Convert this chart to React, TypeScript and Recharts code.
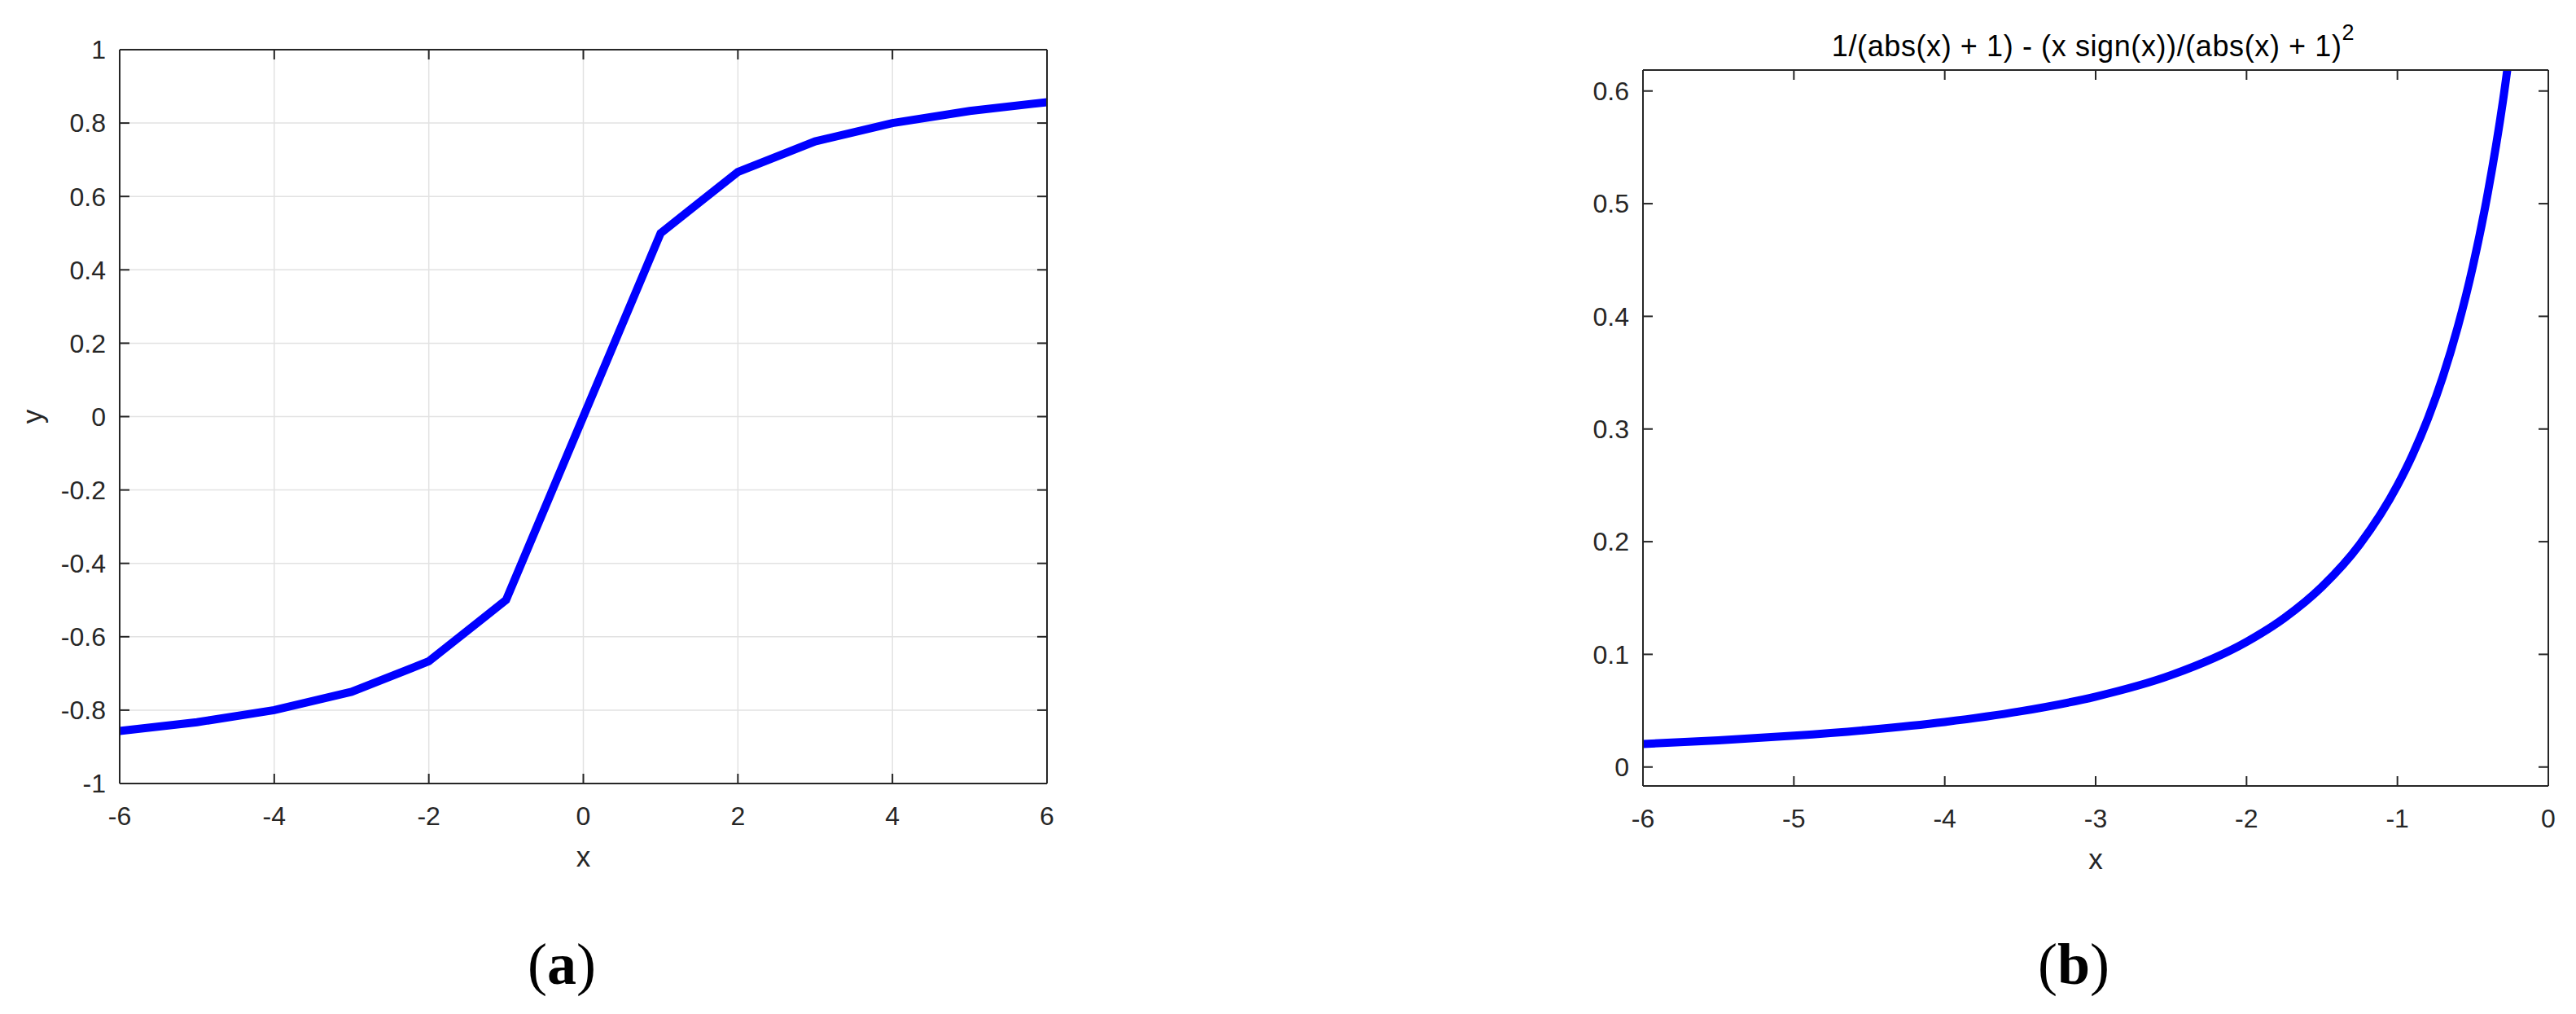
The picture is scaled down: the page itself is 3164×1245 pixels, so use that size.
import React from "react";
import { CartesianGrid, Line, LineChart, XAxis, YAxis } from "recharts";

// (a) softsign sampled at integer x
const softsignX = [-6, -5, -4, -3, -2, -1, 0, 1, 2, 3, 4, 5, 6];
const softsignY = [-0.857, -0.833, -0.8, -0.75, -0.667, -0.5, 0, 0.5, 0.667, 0.75, 0.8, 0.833, 0.857];
const leftXTicks = [-6, -4, -2, 0, 2, 4, 6];
const leftYTicks = [-1, -0.8, -0.6, -0.4, -0.2, 0, 0.2, 0.4, 0.6, 0.8, 1];

// (b) derivative curve on the negative side
const derivX = [-6, -5.5, -5, -4.5, -4, -3.5, -3, -2.5, -2, -1.75, -1.5, -1.25, -1, -0.9, -0.8, -0.7, -0.6, -0.5, -0.4, -0.3, -0.2];
const derivY = [0.0204, 0.0237, 0.0278, 0.0331, 0.04, 0.0494, 0.0625, 0.0816, 0.1111, 0.1322, 0.16, 0.1975, 0.25, 0.277, 0.3086, 0.346, 0.3906, 0.4444, 0.5102, 0.5917, 0.6944];
const rightXTicks = [-6, -5, -4, -3, -2, -1, 0];
const rightYTicks = [0, 0.1, 0.2, 0.3, 0.4, 0.5, 0.6];

const titleMain = "1/(abs(x) + 1) - (x sign(x))/(abs(x) + 1)";
const titleSup = "2";

const FONT = "'Liberation Sans', Arial, Helvetica, sans-serif";
const SERIF = "'Liberation Serif', 'Times New Roman', serif";
const INK = "#262626";

const softsignData = softsignX.map((x, i) => ({ x, y: softsignY[i] }));
const derivData = derivX.map((x, i) => ({ x, y: derivY[i] }));

const axisLine = { stroke: INK, strokeWidth: 2 };
const tickLine = { stroke: INK, strokeWidth: 2 };
const tickStyle = { fontSize: 32, fill: INK, fontFamily: FONT };
const noLabel = () => <g />;

function xLabel(props: any) {
  const vb = props.viewBox;
  return (
    <text x={vb.x + vb.width / 2} y={vb.y + 102} textAnchor="middle" fontSize={35} fill={INK} fontFamily={FONT}>
      x
    </text>
  );
}

function yLabel(props: any) {
  const vb = props.viewBox;
  const cx = vb.x + 52;
  const cy = vb.y + vb.height / 2;
  return (
    <text x={cx} y={cy} textAnchor="middle" fontSize={35} fill={INK} fontFamily={FONT} transform={`rotate(-90 ${cx} ${cy})`}>
      y
    </text>
  );
}

function SoftsignChart() {
  return (
    <LineChart width={1330} height={1120} data={softsignData} margin={{ top: 51, right: 34, bottom: 48, left: 0 }}>
      <CartesianGrid stroke="#e2e2e2" strokeWidth={1.5} />
      <XAxis
        dataKey="x"
        type="number"
        domain={[-6, 6]}
        ticks={leftXTicks}
        interval={0}
        height={110}
        tickSize={-12}
        tickMargin={40}
        axisLine={axisLine}
        tickLine={tickLine}
        tick={tickStyle}
        label={xLabel}
      />
      <XAxis
        xAxisId="top"
        orientation="top"
        dataKey="x"
        type="number"
        domain={[-6, 6]}
        allowDataOverflow
        ticks={leftXTicks}
        interval={0}
        height={10}
        tickSize={-12}
        axisLine={axisLine}
        tickLine={tickLine}
        tick={noLabel}
      />
      <YAxis
        type="number"
        domain={[-1, 1]}
        ticks={leftYTicks}
        interval={0}
        width={147}
        tickSize={-12}
        tickMargin={29}
        axisLine={axisLine}
        tickLine={tickLine}
        tick={tickStyle}
        label={yLabel}
      />
      <YAxis
        yAxisId="right"
        orientation="right"
        dataKey="y"
        type="number"
        domain={[-1, 1]}
        allowDataOverflow
        ticks={leftYTicks}
        interval={0}
        width={10}
        tickSize={-12}
        axisLine={axisLine}
        tickLine={tickLine}
        tick={noLabel}
      />
      <Line
        type="linear"
        dataKey="y"
        stroke="#0000ff"
        strokeWidth={10}
        dot={false}
        activeDot={false}
        isAnimationActive={false}
      />
    </LineChart>
  );
}

function DerivChart() {
  return (
    <LineChart width={1294} height={1120} data={derivData} margin={{ top: 76, right: 24, bottom: 45, left: 0 }}>
      <XAxis
        dataKey="x"
        type="number"
        domain={[-6, 0]}
        ticks={rightXTicks}
        interval={0}
        height={110}
        tickSize={-12}
        tickMargin={40}
        axisLine={axisLine}
        tickLine={tickLine}
        tick={tickStyle}
        label={xLabel}
      />
      <XAxis
        xAxisId="top"
        orientation="top"
        dataKey="x"
        type="number"
        domain={[-6, 0]}
        allowDataOverflow
        ticks={rightXTicks}
        interval={0}
        height={10}
        tickSize={-12}
        axisLine={axisLine}
        tickLine={tickLine}
        tick={noLabel}
      />
      <YAxis
        type="number"
        domain={[-0.0168, 0.6186]}
        allowDataOverflow
        ticks={rightYTicks}
        interval={0}
        width={148}
        tickSize={-12}
        tickMargin={29}
        axisLine={axisLine}
        tickLine={tickLine}
        tick={tickStyle}
      />
      <YAxis
        yAxisId="right"
        orientation="right"
        dataKey="y"
        type="number"
        domain={[-0.0168, 0.6186]}
        allowDataOverflow
        ticks={rightYTicks}
        interval={0}
        width={10}
        tickSize={-12}
        axisLine={axisLine}
        tickLine={tickLine}
        tick={noLabel}
      />
      <Line
        type="monotone"
        dataKey="y"
        stroke="#0000ff"
        strokeWidth={10}
        dot={false}
        activeDot={false}
        isAnimationActive={false}
      />
    </LineChart>
  );
}

export default function App() {
  return (
    <div style={{ position: "absolute", left: 0, top: 0, width: 3164, height: 1245, background: "#fff", overflow: "hidden" }}>
      <div style={{ position: "absolute", left: 0, top: 0 }}>
        <SoftsignChart />
      </div>
      <div style={{ position: "absolute", left: 1870, top: 0 }}>
        <DerivChart />
      </div>
      <svg width={3164} height={1245} style={{ position: "absolute", left: 0, top: 0, pointerEvents: "none" }}>
        <text x={2571} y={68.5} textAnchor="middle" fontSize={36} letterSpacing={0.6} fill="#000" fontFamily={FONT}>
          {titleMain}
          <tspan fontSize={27} dy={-20}>
            {titleSup}
          </tspan>
        </text>
        <text x={690} y={1208} textAnchor="middle" fontSize={72} fontFamily={SERIF} fill="#000">
          (<tspan fontWeight="bold">a</tspan>)
        </text>
        <text x={2547} y={1208} textAnchor="middle" fontSize={72} fontFamily={SERIF} fill="#000">
          (<tspan fontWeight="bold">b</tspan>)
        </text>
      </svg>
    </div>
  );
}
